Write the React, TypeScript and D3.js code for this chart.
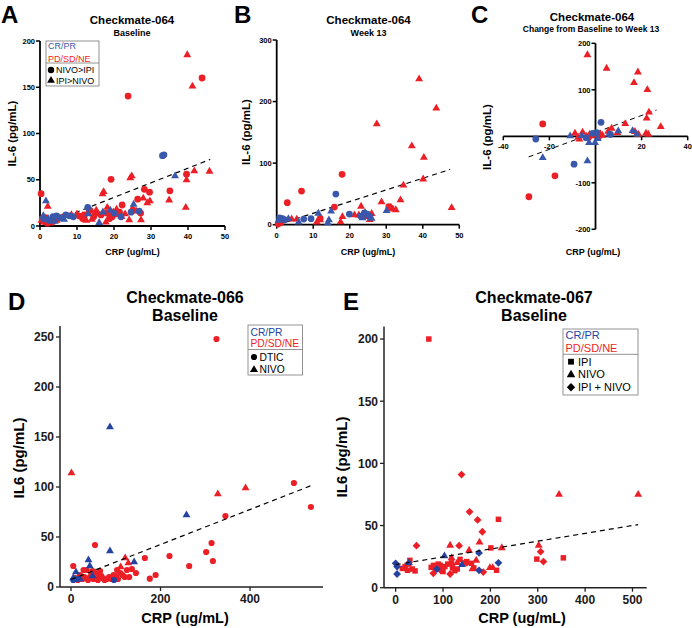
import React from 'react';
import * as d3 from 'd3';

const RED = '#ec1f26';
const BLUE_T = '#3a58ab';
const BLUE_B = '#2443a0';
const FONT = 'Liberation Sans, Arial, Helvetica, sans-serif';

type Pt = [number, number];

// ---------- Panel A: Checkmate-064 Baseline ----------
const aRedCircle: Pt[] = [[0.3,35],[0.6,8],[1.2,5],[2,3],[3.5,5],[1.5,9],[11.5,8],[12,12],[13.5,17],[14.5,10],[16.5,12],[18,14],[19.2,50.5],[19.5,10],[20.5,13],[21.5,15],[22.2,22.7],[23.8,140.5],[25.2,17],[26.4,29],[27.2,14],[28.2,39.7],[29.6,36.5],[35.1,38],[39.6,56],[43.8,160],[15,14],[18.8,8],[10.5,11]];
const aRedTri: Pt[] = [[0.4,6],[1.0,4],[2.1,21],[2.8,3],[4.5,6],[6,9],[8.5,12],[10,13],[11.5,11],[13,15],[14,7],[15.2,17],[15.8,13],[16.9,34.6],[17.2,37],[18.2,20],[19,11],[19.8,15],[20.7,18],[22,10],[23,13],[24.1,6.5],[24.4,52],[24.8,54],[25,19],[26,16],[27.3,6.5],[27.9,30],[29,25],[29.7,27],[34.9,28],[39.4,20],[39.6,49.7],[39.8,185],[41.2,151],[41.7,59.5],[45.8,59],[12.5,6],[17.8,4]];
const aBlueCircle: Pt[] = [[1,8],[2.5,6],[3.5,10],[4.5,11],[5.5,9],[7,12],[8,11],[9,10],[12.9,20],[21.9,10],[24.6,15],[26.8,16],[33.1,76],[33.5,77],[20,14]];
const aBlueTri: Pt[] = [[1.6,27],[0.9,11],[2.2,8],[4,5],[16,3.6],[17,15],[19,17],[25.3,23.4],[36.5,54],[13,13],[6.5,7]];
const aFit = { a: -0.7, b: 1.58, x0: 0.4, x1: 46 };

// ---------- Panel B: Checkmate-064 Week 13 ----------
const bRedTri: Pt[] = [[39,236.6],[43.7,189],[27.4,163.5],[37,127.8],[40.3,109],[40.1,74],[34.7,64],[47.9,27.6],[33.9,40],[32.6,24],[28.7,36.8],[31.3,28],[23.1,29.8],[18,13],[17.5,4.3],[21.3,15.7],[22.5,15.5],[24.6,13],[26,18],[11.9,7.6],[11,4],[5.5,8.7],[4.1,9],[1.5,6],[0.5,2],[25.5,8],[30.5,26]];
const bRedCircle: Pt[] = [[17.9,81.8],[6.8,54.7],[2.9,35.7],[15.8,28.7],[30.7,29.2],[31.3,27],[11.9,10.3],[1.2,4],[0.4,1]];
const bBlueCircle: Pt[] = [[16.2,49.8],[19.9,17.3],[9.4,9.7],[24,19],[24.8,17],[0.8,11],[1.6,10],[7.4,9.2],[23,14],[25.5,13],[2.2,8]];
const bBlueTri: Pt[] = [[11.4,18.4],[14.9,21.7],[14.3,7.6],[30.1,22.7],[24.2,19.5],[23.5,11],[3.2,9.4],[6,4],[0.5,7],[14,3],[26,10]];
const bFit = { a: -0.5, b: 1.9, x0: 0.3, x1: 47.5 };

// ---------- Panel C: Change from Baseline to Week 13 ----------
const cRedTri: Pt[] = [[-3.5,175],[4.8,146],[18.4,138],[16.7,115],[22.5,100],[23.2,51.6],[22.2,38.7],[28.3,20.6],[12.9,27],[7,17],[5.5,10.5],[9.5,7.7],[17.1,10],[21.9,6.4],[22.9,4.2],[18.7,4],[-8.9,6.4],[-5.6,8.6],[-7,-6.5],[-7.5,-2],[-2.6,3.7],[-0.5,2.8],[2,5],[3,2],[-4,0]];
const cRedCircle: Pt[] = [[-22.9,26.5],[-17.6,-85],[-28.9,-130],[-1.2,3],[1.5,0],[-3,-2]];
const cBlueCircle: Pt[] = [[2.4,30],[-25.9,-5.8],[-9.3,-60],[-1.2,6.4],[-4.1,-3],[6.5,4],[0.5,8]];
const cBlueTri: Pt[] = [[-22.9,-46],[-3.5,-53],[-11,0.6],[-2.8,-13.7],[-0.2,-13.7],[9.9,11.4],[16.1,12],[17.9,4.3],[5.9,4.3],[-6,1],[1,-5]];
const cFit = { a: 8.4, b: 1.82, x0: -29, x1: 26.5 };

// ---------- Panel D: Checkmate-066 Baseline ----------
const dRedCircle: Pt[] = [[325,248],[498,104],[536,80],[345,71],[314,44],[302,35],[317,26],[264,21],[220,31],[165,29],[189,12],[176,8.3],[145,14],[136,18],[53.6,42],[5,21],[100,11],[120,10],[130,10],[110,14],[105,8],[95,12],[80,8],[70,9],[60,13],[55,10],[50,8],[45,12],[40,9],[35,17],[30,10],[25,8],[20,12],[15,7],[10,9],[65,16],[75,7],[85,10],[90,8],[115,12],[125,17],[60,7],[48,16],[38,7],[28,17],[68,11],[103,17]];
const dRedTri: Pt[] = [[1,114],[328,93],[390,99],[121,29],[128,24],[111,20],[65,12],[45,9],[55,14],[30,8],[92,10],[20,9]];
const dBlueTri: Pt[] = [[87,160],[258,72],[87,36],[39,27],[42,21],[11,15],[5,9],[141,25],[48,11],[20,8]];
const dBlueCircle: Pt[] = [[5,7],[96,7],[15,8]];
const dFit = { a: 7.5, b: 0.175, x0: 0, x1: 536 };

// ---------- Panel E: Checkmate-067 Baseline ----------
const eRedSquare: Pt[] = [[70,200],[217,55],[201,32],[354,24],[298,23],[213,14],[14,15.5],[20,17],[25,14],[30,22],[35,15],[41,13.5],[75,16.4],[80,18],[85,15],[94,18],[98,16],[104,17],[100,13],[110,19],[118,20],[125,13.7],[130,15],[136,22.8],[145,20],[150,21],[160,19.6],[165,16],[120,16],[90,19],[28,19]];
const eRedTri: Pt[] = [[345,75],[512,75],[302,34],[177,36.5],[115,34],[155,30],[224,32],[118,24],[199,16],[162,15],[205,16],[130,20],[170,22]];
const eRedDiamond: Pt[] = [[139,91],[156,61],[173,54.5],[183,45],[44,33.8],[134,33.8],[306,29],[312,21],[79.5,11.6],[115,11],[185,12.6],[150,20],[95,14]];
const eBlueDiamond: Pt[] = [[0,19.6],[3,17],[3,11],[217,20],[176,28],[176,14],[87,15]];
const eBlueTri: Pt[] = [[103,25.5],[140,18.5],[28,20]];
const eFit = { a: 18.5, b: 0.063, x0: 0, x1: 512 };

// tick values
const aXTicks = [0, 10, 20, 30, 40, 50];
const aYTicks = [0, 50, 100, 150, 200];
const bYTicks = [0, 100, 200, 300];
const cXTicks = [-40, -20, 20, 40];
const cYTicks = [-200, -100, 100, 200];
const dXTicks = [0, 200, 400];
const dYTicks = [0, 50, 100, 150, 200, 250];
const eXTicks = [0, 100, 200, 300, 400, 500];
const eYTicks = [0, 50, 100, 150, 200];

type Shape = 'circle' | 'triangle' | 'square' | 'diamond';

function shapePath(shape: Shape, size: number): string {
  if (shape === 'diamond') {
    const h = size;
    return `M0,${-h}L${h},0L0,${h}L${-h},0Z`;
  }
  const t = shape === 'circle' ? d3.symbolCircle : shape === 'triangle' ? d3.symbolTriangle : d3.symbolSquare;
  return d3.symbol().type(t).size(size)() as string;
}

const SIZES_TOP: Record<Shape, number> = { circle: 36, triangle: 27, square: 30, diamond: 3.8 };
const SIZES_BOT: Record<Shape, number> = { circle: 30, triangle: 27, square: 30, diamond: 3.9 };

function Points({ data, shape, color, x, y, sizes }: { data: Pt[]; shape: Shape; color: string; x: any; y: any; sizes: Record<Shape, number> }) {
  const p = shapePath(shape, sizes[shape]);
  return (
    <g>
      {data.map((d, i) => (
        <path key={i} d={p} fill={color} transform={`translate(${x(d[0])},${y(d[1])})`} />
      ))}
    </g>
  );
}

function Fit({ fit, x, y, width = 1.2 }: { fit: { a: number; b: number; x0: number; x1: number }; x: any; y: any; width?: number }) {
  const line = d3.line<number>().x((v) => x(v)).y((v) => y(fit.a + fit.b * v));
  return <path d={line([fit.x0, fit.x1]) as string} stroke="#000" strokeWidth={width} strokeDasharray="5,4" fill="none" />;
}

function TopAxes({ x, y, xTicks, yTicks }: { x: any; y: any; xTicks: number[]; yTicks: number[] }) {
  const [x0, x1] = x.range();
  const [y0, y1] = y.range();
  return (
    <g fontFamily={FONT} fontWeight="bold" fontSize={7.5}>
      <line x1={x0} x2={x1} y1={y0} y2={y0} stroke="#000" strokeWidth={1.8} />
      <line x1={x0} x2={x0} y1={y0 + 0.9} y2={y1} stroke="#000" strokeWidth={1.8} />
      {xTicks.map((t) => (
        <g key={'x' + t}>
          <line x1={x(t)} x2={x(t)} y1={y0} y2={y0 + 4} stroke="#000" strokeWidth={1.5} />
          <text x={x(t)} y={y0 + 13} textAnchor="middle">{t}</text>
        </g>
      ))}
      {yTicks.map((t) => (
        <g key={'y' + t}>
          <line x1={x0 - 4} x2={x0} y1={y(t)} y2={y(t)} stroke="#000" strokeWidth={1.5} />
          <text x={x0 - 5} y={y(t) + 2.7} textAnchor="end">{t}</text>
        </g>
      ))}
    </g>
  );
}

function BotAxes({ x, y, xTicks, yTicks }: { x: any; y: any; xTicks: number[]; yTicks: number[] }) {
  const [x0, x1] = x.range();
  const [y0, y1] = y.range();
  return (
    <g fontFamily={FONT} fontWeight="bold" fontSize={12} fill="#1a1a1a">
      <line x1={x0} x2={x1} y1={y0} y2={y0} stroke="#222" strokeWidth={1.5} />
      <line x1={x0} x2={x0} y1={y0} y2={y1} stroke="#222" strokeWidth={1.5} />
      {xTicks.map((t) => (
        <g key={'x' + t}>
          <line x1={x(t)} x2={x(t)} y1={y0} y2={y0 + 4} stroke="#222" strokeWidth={1.3} />
          <text x={x(t)} y={y0 + 16} textAnchor="middle">{t}</text>
        </g>
      ))}
      {yTicks.map((t) => (
        <g key={'y' + t}>
          <line x1={x0 - 4} x2={x0} y1={y(t)} y2={y(t)} stroke="#222" strokeWidth={1.3} />
          <text x={x0 - 6} y={y(t) + 4.3} textAnchor="end">{t}</text>
        </g>
      ))}
    </g>
  );
}

export default function App() {
  // scales
  const xA = d3.scaleLinear().domain([0, 50]).range([40, 225]);
  const yA = d3.scaleLinear().domain([0, 200]).range([226, 41]);
  const xB = d3.scaleLinear().domain([0, 50]).range([276.7, 459.3]);
  const yB = d3.scaleLinear().domain([0, 300]).range([224.7, 40]);
  const xC = d3.scaleLinear().domain([-40, 40]).range([503.3, 687.7]);
  const yC = d3.scaleLinear().domain([-200, 200]).range([229.3, 43.3]);
  const xD = d3.scaleLinear().domain([-24.6, 563]).range([60, 323]);
  const yD = d3.scaleLinear().domain([0, 261]).range([587, 326]);
  const xE = d3.scaleLinear().domain([-24.6, 530]).range([384, 646.7]);
  const yE = d3.scaleLinear().domain([0, 210]).range([587.7, 326.6]);

  const cx0 = xC(0);
  const cy0 = yC(0);

  return (
    <svg width={692} height={628} style={{ position: 'absolute', left: 0, top: 0, background: '#fff' }} fontFamily={FONT}>
      <rect width={692} height={628} fill="#fff" />

      {/* Panel letters */}
      <g fontWeight="bold" fontSize={24} fill="#000">
        <text x={1} y={23}>A</text>
        <text x={234} y={23}>B</text>
        <text x={471} y={23}>C</text>
        <text x={8} y={310}>D</text>
        <text x={343} y={310}>E</text>
      </g>

      {/* ===== Panel A ===== */}
      <g fontWeight="bold" textAnchor="middle">
        <text x={132} y={24} fontSize={11.5}>Checkmate-064</text>
        <text x={132} y={36} fontSize={9}>Baseline</text>
      </g>
      <TopAxes x={xA} y={yA} xTicks={aXTicks} yTicks={aYTicks} />
      <text x={132.5} y={255} fontSize={9} fontWeight="bold" textAnchor="middle">CRP (ug/mL)</text>
      <text transform="translate(16,133.5) rotate(-90)" fontSize={11.5} fontWeight="bold" textAnchor="middle">IL-6 (pg/mL)</text>
      <Fit fit={aFit} x={xA} y={yA} />
      <Points data={aRedCircle} shape="circle" color={RED} x={xA} y={yA} sizes={SIZES_TOP} />
      <Points data={aRedTri} shape="triangle" color={RED} x={xA} y={yA} sizes={SIZES_TOP} />
      <Points data={aBlueCircle} shape="circle" color={BLUE_T} x={xA} y={yA} sizes={SIZES_TOP} />
      <Points data={aBlueTri} shape="triangle" color={BLUE_T} x={xA} y={yA} sizes={SIZES_TOP} />
      {/* legend A */}
      <g fontSize={9}>
        <rect x={46} y={41} width={53} height={45} fill="#fff" stroke="#777" strokeWidth={0.8} />
        <line x1={46} x2={99} y1={63} y2={63} stroke="#777" strokeWidth={0.8} />
        <text x={48} y={48.5} fill={BLUE_T}>CR/PR</text>
        <text x={48} y={61.5} fill={RED}>PD/SD/NE</text>
        <path d={shapePath('circle', 32)} transform="translate(51,70)" fill="#000" />
        <text x={56} y={73.2} fill="#000">NIVO&gt;IPI</text>
        <path d={shapePath('triangle', 26)} transform="translate(51,80.5)" fill="#000" />
        <text x={56} y={83.5} fill="#000">IPI&gt;NIVO</text>
      </g>

      {/* ===== Panel B ===== */}
      <g fontWeight="bold" textAnchor="middle">
        <text x={368.5} y={24} fontSize={11.5}>Checkmate-064</text>
        <text x={368.5} y={36} fontSize={9}>Week 13</text>
      </g>
      <TopAxes x={xB} y={yB} xTicks={aXTicks} yTicks={bYTicks} />
      <text x={368} y={255} fontSize={9} fontWeight="bold" textAnchor="middle">CRP (ug/mL)</text>
      <text transform="translate(250,132) rotate(-90)" fontSize={11.5} fontWeight="bold" textAnchor="middle">IL-6 (pg/mL)</text>
      <Fit fit={bFit} x={xB} y={yB} />
      <Points data={bRedTri} shape="triangle" color={RED} x={xB} y={yB} sizes={SIZES_TOP} />
      <Points data={bRedCircle} shape="circle" color={RED} x={xB} y={yB} sizes={SIZES_TOP} />
      <Points data={bBlueCircle} shape="circle" color={BLUE_T} x={xB} y={yB} sizes={SIZES_TOP} />
      <Points data={bBlueTri} shape="triangle" color={BLUE_T} x={xB} y={yB} sizes={SIZES_TOP} />

      {/* ===== Panel C ===== */}
      <g fontWeight="bold" textAnchor="middle">
        <text x={592} y={21} fontSize={11.5}>Checkmate-064</text>
        <text x={591} y={32} fontSize={8.5}>Change from Baseline to Week 13</text>
      </g>
      <g fontWeight="bold" fontSize={7.5}>
        <line x1={xC(-40)} x2={xC(40)} y1={cy0} y2={cy0} stroke="#000" strokeWidth={1.8} />
        <line x1={cx0} x2={cx0} y1={yC(-200)} y2={yC(200)} stroke="#000" strokeWidth={1.8} />
        {cXTicks.map((t) => (
          <g key={'cx' + t}>
            <line x1={xC(t)} x2={xC(t)} y1={cy0} y2={cy0 + 4} stroke="#000" strokeWidth={1.5} />
            <text x={xC(t)} y={cy0 + 13} textAnchor="middle">{t}</text>
          </g>
        ))}
        {cYTicks.map((t) => (
          <g key={'cy' + t}>
            <line x1={cx0 - 4} x2={cx0} y1={yC(t)} y2={yC(t)} stroke="#000" strokeWidth={1.5} />
            <text x={cx0 - 5} y={yC(t) + 2.7} textAnchor="end">{t}</text>
          </g>
        ))}
      </g>
      <text x={593} y={255} fontSize={9} fontWeight="bold" textAnchor="middle">CRP (ug/mL)</text>
      <text transform="translate(491,137) rotate(-90)" fontSize={11.5} fontWeight="bold" textAnchor="middle">IL-6 (pg/mL)</text>
      <Fit fit={cFit} x={xC} y={yC} width={1} />
      <Points data={cRedTri} shape="triangle" color={RED} x={xC} y={yC} sizes={SIZES_TOP} />
      <Points data={cRedCircle} shape="circle" color={RED} x={xC} y={yC} sizes={SIZES_TOP} />
      <Points data={cBlueCircle} shape="circle" color={BLUE_T} x={xC} y={yC} sizes={SIZES_TOP} />
      <Points data={cBlueTri} shape="triangle" color={BLUE_T} x={xC} y={yC} sizes={SIZES_TOP} />

      {/* ===== Panel D ===== */}
      <g fontWeight="bold" textAnchor="middle" fontSize={16}>
        <text x={185} y={303}>Checkmate-066</text>
        <text x={185} y={321}>Baseline</text>
      </g>
      <BotAxes x={xD} y={yD} xTicks={dXTicks} yTicks={dYTicks} />
      <text x={185} y={623} fontSize={14.5} fontWeight="bold" textAnchor="middle">CRP (ug/mL)</text>
      <text transform="translate(24,458) rotate(-90)" fontSize={15} fontWeight="bold" textAnchor="middle">IL6 (pg/mL)</text>
      <Points data={dRedCircle} shape="circle" color={RED} x={xD} y={yD} sizes={SIZES_BOT} />
      <Points data={dRedTri} shape="triangle" color={RED} x={xD} y={yD} sizes={SIZES_BOT} />
      <Points data={dBlueCircle} shape="circle" color={BLUE_B} x={xD} y={yD} sizes={SIZES_BOT} />
      <Points data={dBlueTri} shape="triangle" color={BLUE_B} x={xD} y={yD} sizes={SIZES_BOT} />
      <Fit fit={dFit} x={xD} y={yD} />
      <g fontSize={10.3}>
        <rect x={248} y={325} width={54.5} height={50} fill="#fff" stroke="#888" strokeWidth={0.9} />
        <line x1={248} x2={302.5} y1={349.5} y2={349.5} stroke="#888" strokeWidth={0.9} />
        <text x={250.5} y={335.8} fill={BLUE_B}>CR/PR</text>
        <text x={250.5} y={347.3} fill={RED}>PD/SD/NE</text>
        <path d={shapePath('circle', 30)} transform="translate(254,357)" fill="#000" />
        <text x={259.5} y={360.8} fill="#000">DTIC</text>
        <path d={shapePath('triangle', 28)} transform="translate(254,369.8)" fill="#000" />
        <text x={259.5} y={373.3} fill="#000">NIVO</text>
      </g>

      {/* ===== Panel E ===== */}
      <g fontWeight="bold" textAnchor="middle" fontSize={16}>
        <text x={534} y={303}>Checkmate-067</text>
        <text x={534} y={321}>Baseline</text>
      </g>
      <BotAxes x={xE} y={yE} xTicks={eXTicks} yTicks={eYTicks} />
      <text x={522} y={623} fontSize={14.5} fontWeight="bold" textAnchor="middle">CRP (ug/mL)</text>
      <text transform="translate(347,457) rotate(-90)" fontSize={15} fontWeight="bold" textAnchor="middle">IL6 (pg/mL)</text>
      <Points data={eRedSquare} shape="square" color={RED} x={xE} y={yE} sizes={SIZES_BOT} />
      <Points data={eRedTri} shape="triangle" color={RED} x={xE} y={yE} sizes={SIZES_BOT} />
      <Points data={eRedDiamond} shape="diamond" color={RED} x={xE} y={yE} sizes={SIZES_BOT} />
      <Points data={eBlueDiamond} shape="diamond" color={BLUE_B} x={xE} y={yE} sizes={SIZES_BOT} />
      <Points data={eBlueTri} shape="triangle" color={BLUE_B} x={xE} y={yE} sizes={SIZES_BOT} />
      <Fit fit={eFit} x={xE} y={yE} />
      <g fontSize={11}>
        <rect x={563} y={329} width={75} height={66} fill="#fff" stroke="#888" strokeWidth={0.9} />
        <line x1={563} x2={638} y1={354.3} y2={354.3} stroke="#888" strokeWidth={0.9} />
        <text x={565.5} y={339.3} fill={BLUE_B}>CR/PR</text>
        <text x={565.5} y={352.3} fill={RED}>PD/SD/NE</text>
        <path d={shapePath('square', 34)} transform="translate(571,361.7)" fill="#000" />
        <text x={578} y={365.7} fill="#000">IPI</text>
        <path d={shapePath('triangle', 32)} transform="translate(571,374.8)" fill="#000" />
        <text x={578} y={378.3} fill="#000">NIVO</text>
        <path d={`M0,-4.2L4.2,0L0,4.2L-4.2,0Z`} transform="translate(571,387.3)" fill="#000" />
        <text x={578} y={391.3} fill="#000">IPI + NIVO</text>
      </g>
    </svg>
  );
}
